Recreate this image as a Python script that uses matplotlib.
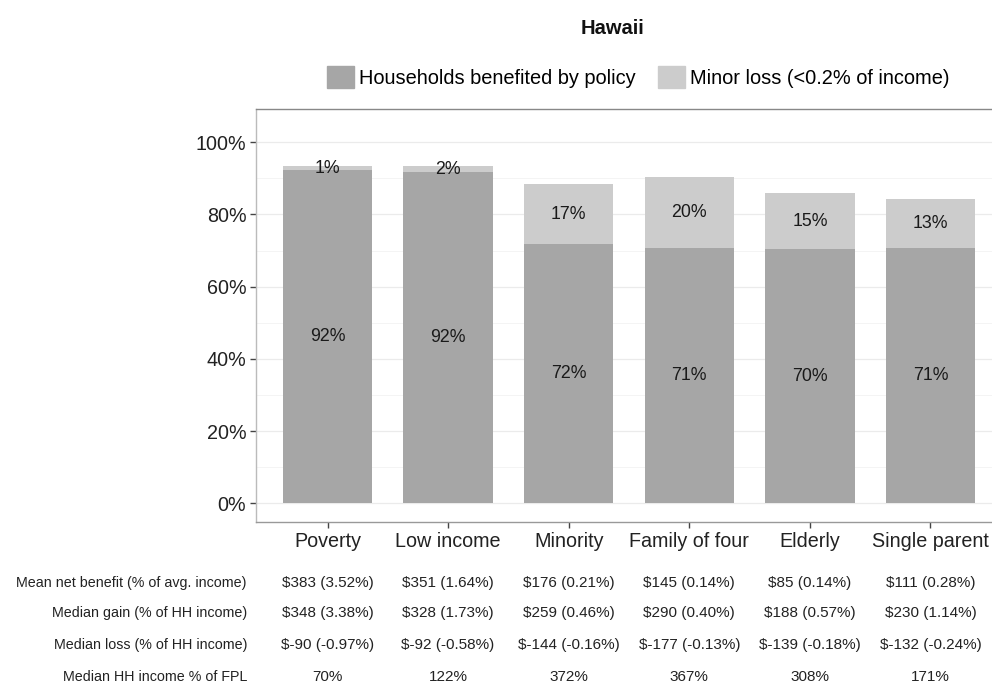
import numpy as np
import matplotlib.pyplot as plt
import matplotlib.patches as mpatches
import matplotlib.transforms as mtransforms
from matplotlib.ticker import MultipleLocator, FuncFormatter

plt.rcParams['font.family'] = ['Liberation Sans', 'DejaVu Sans']

title = "Hawaii"
groups = ["Poverty", "Low income", "Minority", "Family of four", "Elderly", "Single parent"]
benefited = [92.3, 91.7, 71.7, 70.7, 70.4, 70.8]
minor_loss = [1.1, 1.7, 16.6, 19.7, 15.4, 13.4]
series_names = ["Households benefited by policy", "Minor loss (<0.2% of income)"]

row_names = ["Mean net benefit (% of avg. income)",
             "Median gain (% of HH income)",
             "Median loss (% of HH income)",
             "Median HH income % of FPL"]
mean_net = ["$383 (3.52%)", "$351 (1.64%)", "$176 (0.21%)", "$145 (0.14%)", "$85 (0.14%)", "$111 (0.28%)"]
median_gain = ["$348 (3.38%)", "$328 (1.73%)", "$259 (0.46%)", "$290 (0.40%)", "$188 (0.57%)", "$230 (1.14%)"]
median_loss = ["$-90 (-0.97%)", "$-92 (-0.58%)", "$-144 (-0.16%)", "$-177 (-0.13%)", "$-139 (-0.18%)", "$-132 (-0.24%)"]
fpl = ["70%", "122%", "372%", "367%", "308%", "171%"]

dark = "#A6A6A6"
light = "#CCCCCC"
W, H = 992, 696

fig = plt.figure(figsize=(W / 100, H / 100), dpi=100)
# panel runs past the right edge, like the cropped original
ax = fig.add_axes([256 / W, 1 - 522 / H, (1002 - 256) / W, (522 - 109) / H])

x = np.arange(len(groups))
b = np.array(benefited) / 100
m = np.array(minor_loss) / 100
ax.bar(x, b, width=0.74, color=dark, zorder=2)
ax.bar(x, m, width=0.74, bottom=b, color=light, zorder=2)

for xi, bi, mi in zip(x, b, m):
    ax.text(xi, bi / 2, "%d%%" % round(bi * 100), ha="center", va="center",
            fontsize=12.8, color="#1a1a1a", zorder=3)
    ax.text(xi, bi + mi / 2, "%d%%" % round(mi * 100), ha="center", va="center",
            fontsize=12.8, color="#1a1a1a", zorder=3)

ax.set_xlim(-0.593, len(groups) - 0.407)
ax.set_ylim(-0.052, 1.092)
ax.yaxis.set_major_locator(MultipleLocator(0.2))
ax.yaxis.set_minor_locator(MultipleLocator(0.1))
ax.yaxis.set_major_formatter(FuncFormatter(lambda v, p: "%d%%" % round(v * 100)))
ax.set_xticks(x)
ax.set_xticklabels(groups)
ax.grid(axis="y", which="major", color="#EBEBEB", lw=0.9, zorder=0)
ax.grid(axis="y", which="minor", color="#F4F4F4", lw=0.7, zorder=0)
ax.tick_params(axis="y", which="minor", length=0)
ax.tick_params(axis="both", which="major", length=4, width=1, color="#444444",
               labelsize=14.2, labelcolor="#222222", pad=3)

ax.spines["top"].set_color("#888888")
ax.spines["left"].set_color("#BBBBBB")
ax.spines["bottom"].set_color("#999999")
ax.spines["right"].set_visible(False)
for s in ax.spines.values():
    s.set_linewidth(1.0)

fig.text(612 / W, 1 - 28 / H, title, ha="center", va="center",
         fontsize=14.5, fontweight="bold", color="#111111")

handles = [mpatches.Patch(color=dark), mpatches.Patch(color=light)]
fig.legend(handles, series_names, loc="center left",
           bbox_to_anchor=(327 / W, 1 - 77 / H), ncol=2, frameon=False,
           fontsize=14.4, handlelength=1.35, handleheight=1.35,
           handletextpad=0.25, columnspacing=1.1, borderpad=0, borderaxespad=0)

# table under the chart
trans = mtransforms.blended_transform_factory(ax.transData, fig.transFigure)
rows = [mean_net, median_gain, median_loss, fpl]
row_y = [583, 613, 645, 677]
for name, vals, yy in zip(row_names, rows, row_y):
    fig.text(247 / W, 1 - yy / H, name, ha="right", va="center",
             fontsize=10.3, color="#222222")
    for xi, v in zip(x, vals):
        ax.text(xi, 1 - yy / H, v, transform=trans, ha="center", va="center",
                fontsize=11, color="#222222", clip_on=False)

fig.savefig("out.png", dpi=100)
